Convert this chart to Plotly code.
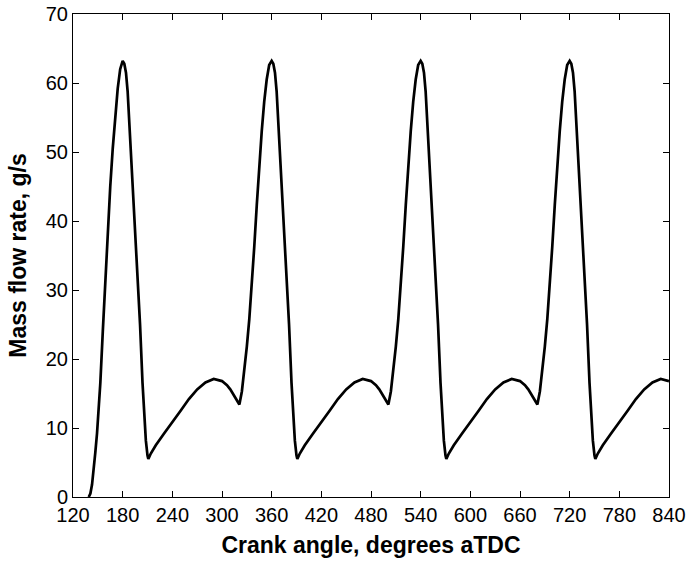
import plotly.graph_objects as go

# Crank angle (degrees aTDC) and mass flow rate (g/s)
crank_angle = [
    139, 141, 143, 145, 147, 149, 151, 153, 156, 159, 162, 165, 168, 171, 174, 177, 180,
    182, 184, 186, 189, 192, 195, 198, 201, 204, 206, 208, 210, 211, 214, 220, 230, 240,
    250, 260, 270, 280, 290, 300, 306, 310, 314, 318, 321,
    324, 327, 330, 333, 336, 339, 342, 345, 348, 351, 354, 357, 360,
    362, 364, 366, 369, 372, 375, 378, 381, 384, 386, 388, 390, 391, 394, 400, 410, 420,
    430, 440, 450, 460, 470, 480, 486, 490, 494, 498, 501,
    504, 507, 510, 513, 516, 519, 522, 525, 528, 531, 534, 537, 540,
    542, 544, 546, 549, 552, 555, 558, 561, 564, 566, 568, 570, 571, 574, 580, 590, 600,
    610, 620, 630, 640, 650, 660, 666, 670, 674, 678, 681,
    684, 687, 690, 693, 696, 699, 702, 705, 708, 711, 714, 717, 720,
    722, 724, 726, 729, 732, 735, 738, 741, 744, 746, 748, 750, 751, 754, 760, 770, 780,
    790, 800, 810, 820, 830, 840,
]

mass_flow = [
    0.0, 0.5, 1.8, 3.8, 6.5, 9.2, 12.4, 16.5, 24.0, 31.2, 38.5, 45.0, 50.5, 55.3, 59.2, 62.0, 63.2,
    62.8, 61.5, 58.8, 52.0, 45.5, 39.5, 32.5, 25.0, 16.5, 12.0, 8.2, 6.0, 5.5, 6.3, 7.5, 9.2, 10.8,
    12.5, 14.2, 15.6, 16.6, 17.1, 16.8, 16.2, 15.6, 14.8, 13.8, 13.4,
    15.3, 18.2, 21.8, 25.8, 30.5, 36.3, 42.3, 48.0, 53.0, 57.3, 60.5, 62.6, 63.2,
    62.8, 61.5, 58.8, 52.0, 45.5, 39.5, 32.5, 25.0, 16.5, 12.0, 8.2, 6.0, 5.5, 6.3, 7.5, 9.2, 10.8,
    12.5, 14.2, 15.6, 16.6, 17.1, 16.8, 16.2, 15.6, 14.8, 13.8, 13.4,
    15.3, 18.2, 21.8, 25.8, 30.5, 36.3, 42.3, 48.0, 53.0, 57.3, 60.5, 62.6, 63.2,
    62.8, 61.5, 58.8, 52.0, 45.5, 39.5, 32.5, 25.0, 16.5, 12.0, 8.2, 6.0, 5.5, 6.3, 7.5, 9.2, 10.8,
    12.5, 14.2, 15.6, 16.6, 17.1, 16.8, 16.2, 15.6, 14.8, 13.8, 13.4,
    15.3, 18.2, 21.8, 25.8, 30.5, 36.3, 42.3, 48.0, 53.0, 57.3, 60.5, 62.6, 63.2,
    62.8, 61.5, 58.8, 52.0, 45.5, 39.5, 32.5, 25.0, 16.5, 12.0, 8.2, 6.0, 5.5, 6.3, 7.5, 9.2, 10.8,
    12.5, 14.2, 15.6, 16.6, 17.1, 16.8,
]

x_ticks = [120, 180, 240, 300, 360, 420, 480, 540, 600, 660, 720, 780, 840]
y_ticks = [0, 10, 20, 30, 40, 50, 60, 70]

FONT = "Liberation Sans, Arial, sans-serif"

fig = go.Figure()
fig.add_trace(go.Scatter(
    x=crank_angle, y=mass_flow, mode="lines",
    line=dict(color="black", width=2.7),
    showlegend=False,
))

axis_common = dict(
    showline=True, linecolor="black", linewidth=1, mirror="ticks",
    ticks="inside", ticklen=6, tickcolor="black", tickwidth=1,
    showgrid=False, zeroline=False, automargin=False,
    ticklabeloverflow="allow",
    tickfont=dict(family=FONT, size=20, color="black"),
)

fig.update_layout(
    width=687, height=561,
    margin=dict(l=73, r=18, t=14, b=64),
    paper_bgcolor="white", plot_bgcolor="white",
    xaxis=dict(
        range=[120, 840], tickvals=x_ticks, ticktext=[str(v) for v in x_ticks],
        title=dict(text="<b>Crank angle, degrees aTDC</b>",
                   font=dict(family=FONT, size=23, color="black"), standoff=11),
        **axis_common,
    ),
    yaxis=dict(
        range=[0, 70], tickvals=y_ticks, ticktext=[str(v) for v in y_ticks],
        title=dict(text="<b>Mass flow rate, g/s</b>",
                   font=dict(family=FONT, size=23, color="black"), standoff=12),
        **axis_common,
    ),
)

# Remove the default page margin so the figure sits at the window's top-left corner.
fig.write_html(
    "out.html",
    config={"displayModeBar": False},
    post_script="document.body.style.margin='0';document.body.style.overflow='hidden';",
)
